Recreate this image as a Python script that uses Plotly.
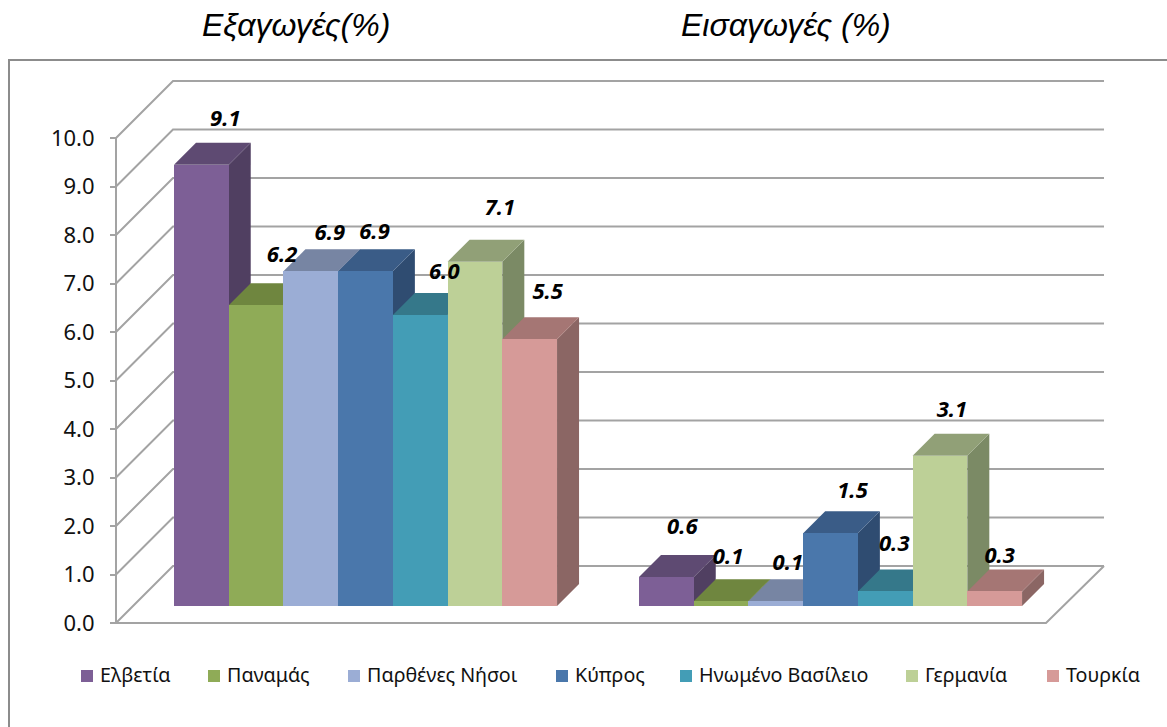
import plotly.graph_objects as go

COUNTRIES = ["Ελβετία", "Παναμάς", "Παρθένες Νήσοι", "Κύπρος", "Ηνωμένο Βασίλειο", "Γερμανία", "Τουρκία"]
EXPORTS = [9.1, 6.2, 6.9, 6.9, 6.0, 7.1, 5.5]
IMPORTS = [0.6, 0.1, 0.1, 1.5, 0.3, 3.1, 0.3]
GROUP_TITLES = ["Εξαγωγές(%)", "Εισαγωγές (%)"]
TICKS = [0, 1, 2, 3, 4, 5, 6, 7, 8, 9, 10]

FRONT = ["#7D5F96", "#8FAB57", "#9BADD5", "#4A77AB", "#439DB6", "#BDD097", "#D69A98"]
TOP = ["#5E4A72", "#6F863F", "#7785A3", "#3A5C87", "#35788A", "#91A077", "#A57674"]
SIDE = ["#503F61", "#5C7034", "#66748F", "#2F4C71", "#2C6575", "#7B8A65", "#8B6664"]

# layout geometry (pixels in the 1167x727 page)
W, H = 1167, 727
PX_PER_UNIT = 48.5
AXIS_MAX = 12       # plot area runs higher than the 10.0 tick, to hold the back wall
L, R, B = 60, 1167, 623
ORIGIN = 116        # page x of the value axis; x data are measured from it
T = B - AXIS_MAX * PX_PER_UNIT
AXIS_MIN = -(H - B) / PX_PER_UNIT   # and lower than 0.0, to hold the legend row
WALL = 57           # depth of the chart box
WALL_RIGHT = 988    # right end of the back wall, from the axis
BAR_DEPTH = 22      # depth of a bar
BAR_INSET = 17      # bars stand this far back from the front edge of the floor
BAR_W = 54.72
GROUP_STARTS = [58, 523]
FLOOR_FRONT_END = 930
GRID = "#A3A3A3"

# label offsets from the front top-centre of each bar, in pixels
LABEL_DX = [[24, 26, 19, 9, 24, 25, 18], [16, 7, 12, 22, 9, 12, 5]]
LABEL_DY = [[44, 49, 37, 38, 42, 52, 46], [48, 43, 37, 41, 46, 44, 34]]

# legend row
LEGEND_SWATCH_LEFT = [81, 208, 348, 556, 680, 906, 1047]
LEGEND_Y = 676
LEGEND_TEXT_Y = 677
SWATCH = 12
LEGEND_TEXT_GAP = 19   # swatch left edge to text left edge

BASE = BAR_INSET / PX_PER_UNIT
D_BAR = BAR_DEPTH / PX_PER_UNIT
D_WALL = WALL / PX_PER_UNIT


def px(x):
    return (x - L) / (R - L)


def py(y):
    return (H - y) / (H - T)


fig = go.Figure()

# walls, floor and the value axis line
gx, gy = [0, 0, None], [0, TICKS[-1], None]
for t in TICKS:
    gx += [0, WALL, WALL_RIGHT, None]
    gy += [t, t + D_WALL, t + D_WALL, None]
gx += [0, FLOOR_FRONT_END, WALL_RIGHT]
gy += [0, 0, D_WALL]
fig.add_trace(go.Scatter(x=gx, y=gy, mode="lines", line=dict(color=GRID, width=2),
                         showlegend=False, hoverinfo="skip"))

groups = [EXPORTS, IMPORTS]

# side and top faces, behind the fronts
for start, vals in zip(GROUP_STARTS, groups):
    for i, v in enumerate(vals):
        x0 = start + i * BAR_W
        x1 = x0 + BAR_W
        top = BASE + v
        fig.add_trace(go.Scatter(
            x=[x1, x1 + BAR_DEPTH, x1 + BAR_DEPTH, x1, x1],
            y=[BASE, BASE + D_BAR, top + D_BAR, top, BASE],
            mode="lines", fill="toself", fillcolor=SIDE[i], line=dict(width=0),
            showlegend=False, hoverinfo="skip"))
        fig.add_trace(go.Scatter(
            x=[x0, x1, x1 + BAR_DEPTH, x0 + BAR_DEPTH, x0],
            y=[top, top, top + D_BAR, top + D_BAR, top],
            mode="lines", fill="toself", fillcolor=TOP[i], line=dict(width=0),
            showlegend=False, hoverinfo="skip"))

# front faces, one trace per country, in an overlay so they cover the sides
for i, name in enumerate(COUNTRIES):
    fig.add_trace(go.Bar(
        x=[s + (i + 0.5) * BAR_W for s in GROUP_STARTS],
        y=[g[i] for g in groups],
        base=BASE, width=BAR_W, name=name,
        marker=dict(color=FRONT[i], line=dict(width=0)),
        xaxis="x2", yaxis="y2", showlegend=False,
    ))

# value labels
for g, (start, vals) in enumerate(zip(GROUP_STARTS, groups)):
    fig.add_trace(go.Scatter(
        x=[start + (i + 0.5) * BAR_W + LABEL_DX[g][i] for i in range(len(vals))],
        y=[BASE + v + LABEL_DY[g][i] / PX_PER_UNIT for i, v in enumerate(vals)],
        text=[f"{v:.1f}" for v in vals],
        mode="text", textposition="middle center",
        textfont=dict(family="Noto Sans", size=22, color="#000000", weight="bold", style="italic"),
        xaxis="x2", yaxis="y2", showlegend=False, hoverinfo="skip"))

# legend row: square swatch and name for each country
fig.add_trace(go.Scatter(
    x=[s + SWATCH / 2 - ORIGIN for s in LEGEND_SWATCH_LEFT],
    y=[(B - LEGEND_Y) / PX_PER_UNIT] * len(COUNTRIES),
    mode="markers", marker=dict(symbol="square", size=SWATCH, color=FRONT, line=dict(width=0)),
    xaxis="x2", yaxis="y2", showlegend=False, hoverinfo="skip"))
fig.add_trace(go.Scatter(
    x=[s + LEGEND_TEXT_GAP - ORIGIN for s in LEGEND_SWATCH_LEFT],
    y=[(B - LEGEND_TEXT_Y) / PX_PER_UNIT] * len(COUNTRIES),
    text=COUNTRIES, mode="text", textposition="middle right",
    textfont=dict(family="Noto Sans", size=19.7, color="#111111"),
    xaxis="x2", yaxis="y2", showlegend=False, hoverinfo="skip"))

xr = [L - ORIGIN, R - ORIGIN]
yr = [AXIS_MIN, AXIS_MAX]
title_font = dict(family="Liberation Sans", size=32, color="#000000", style="italic")
fig.update_layout(
    width=W, height=H, paper_bgcolor="#FFFFFF", plot_bgcolor="rgba(0,0,0,0)",
    margin=dict(l=L, r=W - R, t=T, b=0, pad=0),
    barmode="overlay", bargap=0, showlegend=False,
    xaxis=dict(range=xr, visible=False, fixedrange=True),
    yaxis=dict(range=yr, tickvals=TICKS, tickformat=".1f", ticks="outside", ticklen=6,
               tickwidth=2, tickcolor=GRID, showline=False,
               anchor="free", position=px(ORIGIN),
               showgrid=False, zeroline=False, ticklabelstandoff=11,
               tickfont=dict(family="Noto Sans", size=22, color="#111111"), fixedrange=True),
    xaxis2=dict(range=xr, overlaying="x", visible=False, fixedrange=True),
    yaxis2=dict(range=yr, overlaying="y", visible=False, fixedrange=True),
    shapes=[dict(type="rect", xref="paper", yref="paper", x0=px(9), x1=px(1200), y0=py(60), y1=py(760),
                 line=dict(color="#8C8C8C", width=2), fillcolor="rgba(0,0,0,0)", layer="below")],
    annotations=[
        dict(text=GROUP_TITLES[0], xref="paper", yref="paper", x=px(296), y=py(25), showarrow=False,
             xanchor="center", yanchor="middle", font=title_font),
        dict(text=GROUP_TITLES[1], xref="paper", yref="paper", x=px(786), y=py(25), showarrow=False,
             xanchor="center", yanchor="middle", font=title_font),
    ],
)

fig.write_html("out.html", config=dict(displayModeBar=False),
               post_script="document.body.style.margin='0';document.body.style.overflow='hidden';")
